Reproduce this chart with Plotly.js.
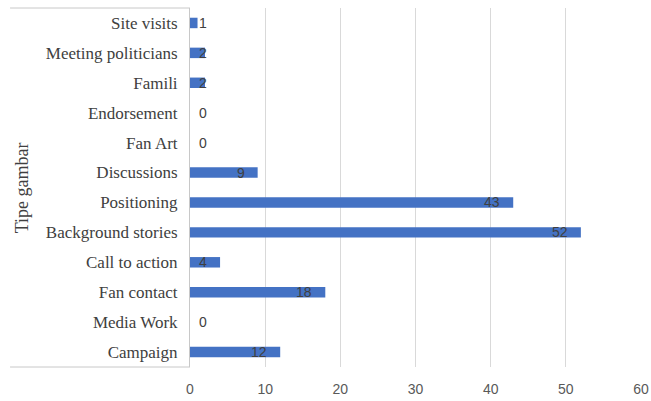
<!DOCTYPE html>
<html>
<head>
<meta charset="utf-8">
<script src="https://cdn.plot.ly/plotly-3.0.1.min.js"></script>
<style>html,body{margin:0;padding:0;background:#fff;}#chart{width:651px;height:401px;}</style>
</head>
<body>
<div id="chart"></div>
<script>
const categories = ["Campaign","Media Work","Fan contact","Call to action","Background stories","Positioning","Discussions","Fan Art","Endorsement","Famili","Meeting politicians","Site visits"];
const values = [12,0,18,4,52,43,9,0,0,2,2,1];
const xTicks = [0,10,20,30,40,50,60];
const yTitle = "Tipe gambar";

const annotations = categories.map((c,i)=>({
  x: Math.max(values[i],4), y: c, xref:'x', yref:'y',
  text: String(values[i]), showarrow:false, xanchor:'right', xshift:-11,
  font:{family:'Liberation Sans, Arial, sans-serif', size:14, color:'#404040'}
}));
annotations.push({
  xref:'paper', yref:'paper', x:-0.373, y:0.5, xanchor:'center', yanchor:'middle',
  text: yTitle, textangle:-90, showarrow:false,
  font:{family:'Liberation Serif, Times New Roman, serif', size:18, color:'#404040'}
});

const trace = {
  type:'bar', orientation:'h', x: values, y: categories,
  marker:{color:'#4472C4'}, hoverinfo:'none'
};

const layout = {
  width:651, height:401,
  margin:{l:190, r:10, t:8, b:34},
  paper_bgcolor:'#fff', plot_bgcolor:'#fff',
  bargap:0.65, showlegend:false,
  xaxis:{range:[0,60], tickvals:xTicks, showgrid:true, gridcolor:'#d9d9d9', gridwidth:1,
    zeroline:false, showline:false, ticks:'', ticklabelstandoff:12,
    tickfont:{family:'Liberation Sans, Arial, sans-serif', size:14, color:'#595959'}},
  yaxis:{type:'category', categoryorder:'array', categoryarray:categories,
    showline:true, linecolor:'#c8c8c8', linewidth:1, ticks:'', showgrid:false,
    ticklabelstandoff:8,
    tickfont:{family:'Liberation Serif, Times New Roman, serif', size:17, color:'#404040'}},
  shapes:[
    {type:'line', xref:'paper', yref:'paper', x0:-0.399, x1:0, y0:1, y1:1, line:{color:'#c8c8c8', width:1}},
    {type:'line', xref:'paper', yref:'paper', x0:-0.399, x1:0, y0:0, y1:0, line:{color:'#c8c8c8', width:1}}
  ],
  annotations: annotations
};

Plotly.newPlot('chart',[trace],layout,{displayModeBar:false, staticPlot:true});
</script>
</body>
</html>
